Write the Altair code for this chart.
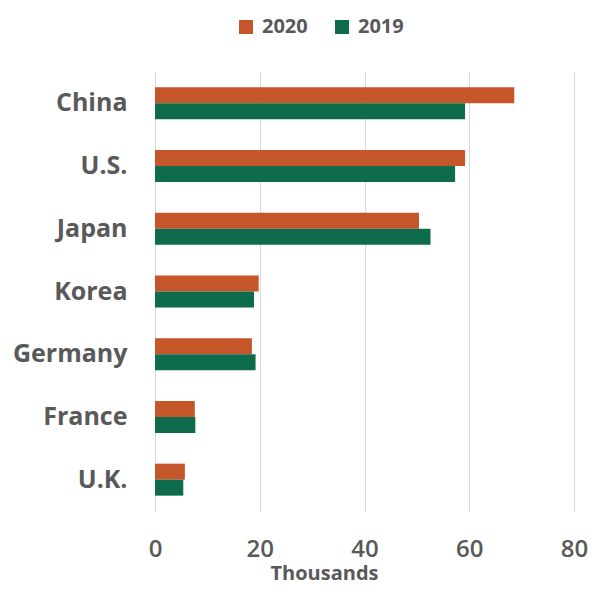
import altair as alt
import pandas as pd

countries = ["China", "U.S.", "Japan", "Korea", "Germany", "France", "U.K."]
values_2020 = [68.6, 59.2, 50.4, 19.8, 18.5, 7.6, 5.7]
values_2019 = [59.2, 57.3, 52.6, 18.9, 19.2, 7.7, 5.4]
years = ["2020", "2019"]
x_ticks = [0, 20, 40, 60, 80]

rows = []
for c, a, b in zip(countries, values_2020, values_2019):
    rows.append({"country": c, "year": "2020", "value": a})
    rows.append({"country": c, "year": "2019", "value": b})
df = pd.DataFrame(rows)

TEXT = "#595959"
FONT = "Open Sans"

chart = alt.Chart(df).mark_bar().encode(
    y=alt.Y("country:N", sort=countries, title=None,
            scale=alt.Scale(paddingInner=0.49, paddingOuter=0.245),
            axis=alt.Axis(labelFontSize=25, labelFontWeight="bold", labelColor=TEXT,
                          labelFont=FONT, labelPadding=28, ticks=False, domain=False,
                          grid=False)),
    yOffset=alt.YOffset("year:N", sort=years),
    x=alt.X("value:Q", title="Thousands",
            scale=alt.Scale(domain=[0, 80], nice=False),
            axis=alt.Axis(values=x_ticks, labelFontSize=24, labelFontWeight=600,
                          labelColor=TEXT, labelFont=FONT,
                          labelPadding=26, labelFlush=False, ticks=False, domain=False,
                          grid=True, gridColor="#D9D9D9", gridWidth=1,
                          titleFontSize=20, titleFontWeight="bold", titleColor=TEXT,
                          titleFont=FONT, titleX=169, titleY=68,
                          titleBaseline="alphabetic", titleAlign="center")),
    color=alt.Color("year:N", sort=years,
                    scale=alt.Scale(domain=years, range=["#C5562A", "#0E6B4B"]),
                    legend=alt.Legend(title=None, orient="none", direction="horizontal",
                                      legendX=81, legendY=-55, symbolType="square",
                                      symbolSize=196, symbolStrokeWidth=0,
                                      labelFontSize=20, labelFontWeight="bold",
                                      labelColor=TEXT, labelFont=FONT, labelOffset=6,
                                      columnPadding=24, padding=0)),
).properties(
    width=419, height=439,
    autosize=alt.AutoSizeParams(type="none"),
    padding={"left": 147, "top": 64, "right": 14, "bottom": 74},
).configure_view(stroke=None)

chart.save("out.html", embed_options={"renderer": "svg", "actions": False})
